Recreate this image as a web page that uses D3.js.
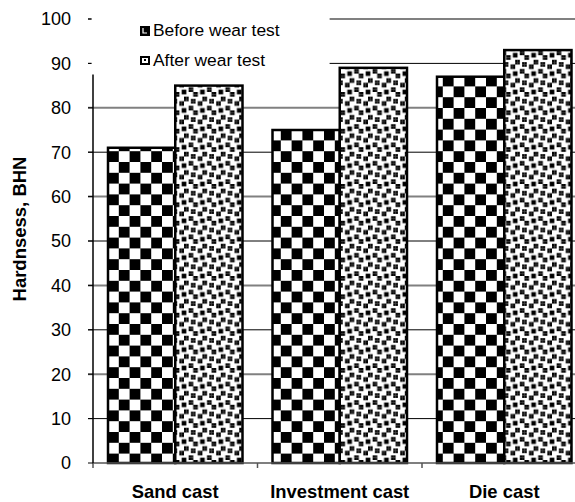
<!DOCTYPE html>
<html><head><meta charset="utf-8">
<script src="https://cdn.jsdelivr.net/npm/d3@7"></script>
<style>body{margin:0;background:#fff}svg{display:block}</style>
</head><body>
<script>
const categories = ["Sand cast", "Investment cast", "Die cast"];
const seriesNames = ["Before wear test", "After wear test"];
const before = [71, 75, 87];
const after = [85, 89, 93];
const yTicks = [0, 10, 20, 30, 40, 50, 60, 70, 80, 90, 100];
const yTitle = "Hardnsess, BHN";

const W = 575, H = 502;
const font = "'Liberation Sans', Arial, sans-serif";
const svg = d3.select("body").append("svg").attr("width", W).attr("height", H);
const defs = svg.append("defs");

// checkerboard pattern
const cell = 10.8;
const pc = defs.append("pattern").attr("id", "checker").attr("patternUnits", "userSpaceOnUse")
  .attr("width", cell * 2).attr("height", cell * 2).attr("x", 108).attr("y", 0);
pc.append("rect").attr("width", cell * 2).attr("height", cell * 2).attr("fill", "#fff");
pc.append("rect").attr("width", cell).attr("height", cell).attr("fill", "#000");
pc.append("rect").attr("x", cell).attr("y", cell).attr("width", cell).attr("height", cell).attr("fill", "#000");

// large confetti pattern (8x8 bit tile)
const bits = [0x8d, 0x0c, 0xc0, 0xd8, 0x1b, 0x03, 0x30, 0xb1];
const s = 2.3;
const pf = defs.append("pattern").attr("id", "confetti").attr("patternUnits", "userSpaceOnUse")
  .attr("width", 8 * s).attr("height", 8 * s);
pf.append("rect").attr("width", 8 * s).attr("height", 8 * s).attr("fill", "#fff");
bits.forEach((b, r) => {
  for (let c = 0; c < 8; c++) {
    if (b & (0x80 >> c)) pf.append("rect").attr("x", c * s).attr("y", r * s)
      .attr("width", s + 0.05).attr("height", s + 0.05).attr("fill", "#000");
  }
});

const x = d3.scaleBand().domain(categories).range([93, 586.5]).padding(0);
const xs = d3.scaleBand().domain(seriesNames).range([15, x.bandwidth() - 15]).padding(0);
const y = d3.scaleLinear().domain([0, 100]).range([463, 19]);

// gridlines
svg.append("g").selectAll("line").data(yTicks.filter(d => d > 0)).join("line")
  .attr("x1", 88).attr("x2", W).attr("y1", d => y(d)).attr("y2", d => y(d))
  .attr("stroke", d => (d / 10) % 2 === 0 ? "#808080" : "#000")
  .attr("stroke-width", d => (d / 10) % 2 === 0 ? 2 : 1);

// bars
const data = categories.map((c, i) => ({ c, vals: [before[i], after[i]] }));
const g = svg.append("g");
data.forEach(d => {
  d.vals.forEach((v, j) => {
    g.append("rect")
      .attr("x", x(d.c) + xs(seriesNames[j]))
      .attr("y", y(v))
      .attr("width", xs.bandwidth())
      .attr("height", y(0) - y(v))
      .attr("fill", j === 0 ? "url(#checker)" : "url(#confetti)")
      .attr("stroke", "#000").attr("stroke-width", 2.5);
  });
});

// x axis
svg.append("line").attr("x1", 93).attr("x2", W).attr("y1", y(0)).attr("y2", y(0))
  .attr("stroke", "#555").attr("stroke-width", 1.5);
const xb = categories.map(c => x(c)).concat([x.range()[1]]);
svg.append("g").selectAll("line").data(xb).join("line")
  .attr("x1", d => d).attr("x2", d => d).attr("y1", y(0)).attr("y2", y(0) + 5)
  .attr("stroke", "#555").attr("stroke-width", 1.5);
svg.append("g").selectAll("text").data(categories).join("text")
  .attr("x", d => x(d) + x.bandwidth() / 2).attr("y", 498)
  .attr("text-anchor", "middle").attr("font-family", font).attr("font-weight", "bold")
  .attr("font-size", 18.4).attr("fill", "#000").text(d => d);

// y axis
svg.append("line").attr("x1", 93).attr("x2", 93).attr("y1", y(0)).attr("y2", 19)
  .attr("stroke", "#000").attr("stroke-width", 1.5);
svg.append("g").selectAll("line").data(yTicks).join("line")
  .attr("x1", 88).attr("x2", 93).attr("y1", d => y(d)).attr("y2", d => y(d))
  .attr("stroke", "#000").attr("stroke-width", 1);
svg.append("g").selectAll("text").data(yTicks).join("text")
  .attr("x", 71).attr("y", d => y(d) + 6.3)
  .attr("text-anchor", "end").attr("font-family", font)
  .attr("font-size", 18).attr("fill", "#000").text(d => d);

svg.append("text").attr("transform", "translate(26,229) rotate(-90)")
  .attr("text-anchor", "middle").attr("font-family", font).attr("font-weight", "bold")
  .attr("font-size", 18.5).attr("fill", "#000").text(yTitle);

// legend (white box covering plot top-left)
const lg = svg.append("g");
lg.append("rect").attr("x", 91.6).attr("y", 0).attr("width", 238).attr("height", 74.5).attr("fill", "#fff");
const ly = [36, 66];
// swatch 1
lg.append("rect").attr("x", 140).attr("y", ly[0] - 10).attr("width", 10).attr("height", 10).attr("fill", "#000");
lg.append("path").attr("d", `M143,${ly[0]-8} V${ly[0]-3} H147`).attr("stroke", "#fff").attr("stroke-width", 1.2).attr("fill", "none");
// swatch 2
lg.append("rect").attr("x", 140).attr("y", ly[1] - 10).attr("width", 10).attr("height", 9).attr("fill", "#000");
lg.append("rect").attr("x", 142).attr("y", ly[1] - 8).attr("width", 6).attr("height", 5).attr("fill", "#fff");
lg.append("rect").attr("x", 144).attr("y", ly[1] - 7).attr("width", 2).attr("height", 2).attr("fill", "#000");
lg.selectAll("text.l").data(seriesNames).join("text")
  .attr("x", 153).attr("y", (d, i) => ly[i])
  .attr("font-family", font).attr("font-size", 17.4).attr("fill", "#000").text(d => d);
</script>
</body></html>
